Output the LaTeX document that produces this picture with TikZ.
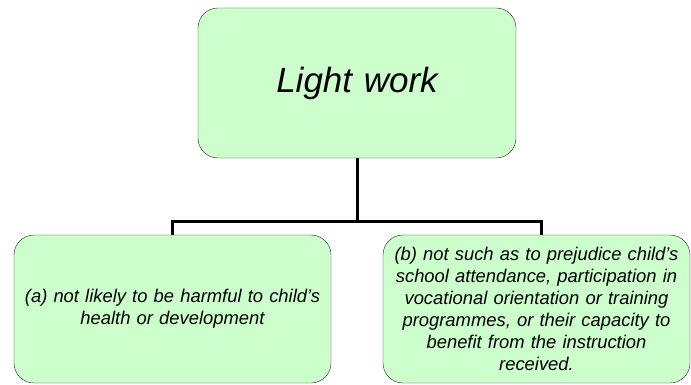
\documentclass[tikz,border=0pt]{standalone}
\usepackage{fontspec}
\setmainfont{Liberation Sans}
\usepackage{tikz}
\usetikzlibrary{positioning}
\definecolor{boxgreen}{HTML}{CCFFCC}

\begin{document}
\begin{tikzpicture}[x=1pt,y=1pt,
                    box node/.style={rectangle,rounded corners=20pt,draw=black!85,fill=boxgreen,
                                     align=center,inner xsep=6pt,inner ysep=0pt,
                                     font=\fontsize{18.4}{22}\selectfont\itshape},
                    link/.style={line width=3pt}]
  \useasboundingbox (0,0) rectangle (691,384);

  \node[box node,text width=306pt,minimum height=150pt,
        font=\fontsize{35}{40}\selectfont\itshape] (LW) at (357,301) {Light work};
  \node[box node,text width=305pt,minimum height=148pt] (A) at (172.5,75)
       {(a) not likely to be harmful to child's\\ health or development};
  \node[box node,text width=295pt,minimum height=148pt] (B) at (536.5,75)
       {(b) not such as to prejudice child's\\ school attendance, participation in\\
        vocational orientation or training\\ programmes, or their capacity to\\
        benefit from the instruction\\ received.};

  \coordinate (J) at (357,163);
  \draw[link] (LW.south) -- (J);
  \draw[link] (A.north) |- (J) -| ([xshift=5pt]B.north);
\end{tikzpicture}
\end{document}
